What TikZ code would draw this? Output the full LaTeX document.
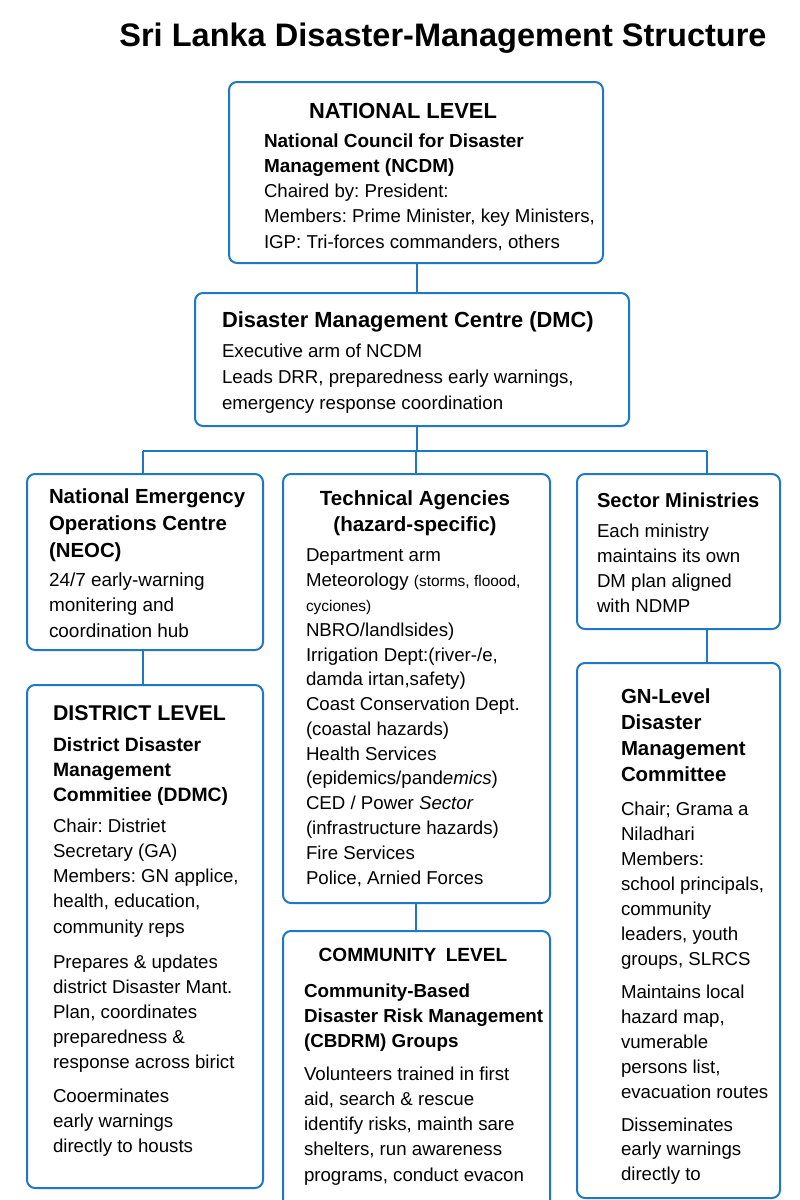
\documentclass[tikz,border=0pt]{standalone}
\usepackage{fontspec}
\setmainfont{Liberation Sans}
\frenchspacing
\usetikzlibrary{fit}
\definecolor{dblue}{RGB}{30,120,200}
\begin{document}
\begin{tikzpicture}[x=0.75pt,y=-0.75pt,
  box/.style={draw=dblue, line width=1.5pt, rounded corners=6pt, inner sep=0pt},
  conn/.style={draw=dblue, line width=1.5pt},
  txt/.style={anchor=base west, align=left, inner sep=0pt, outer sep=0pt},
  ctxt/.style={anchor=base, align=center, inner sep=0pt, outer sep=0pt}]
\useasboundingbox[fill=white] (0,0) rectangle (800,1200);

% title (anchor = baseline of the last line)
\node[ctxt, font=\fontsize{24.4}{28}\selectfont\bfseries] (title) at (443,46) {Sri Lanka Disaster-Management Structure};

% boxes
\node[box, fit={(229,82) (603,263)}] (nat) {};
\node[box, fit={(195,293) (629,426)}] (dmc) {};
\node[box, fit={(27,474) (263,650)}] (neoc) {};
\node[box, fit={(283,474) (550,903)}] (tech) {};
\node[box, fit={(577,474) (780,629)}] (sect) {};
\node[box, fit={(27,685) (263,1188)}] (dist) {};
\node[box, fit={(283,931) (550,1215)}] (comm) {};
\node[box, fit={(577,663) (780,1198)}] (gn) {};

% connectors
\coordinate (busc) at (417,451);
\coordinate (busl) at (143,451);
\coordinate (busr) at (707,451);
\coordinate (tcx) at (416,451);
\draw[conn] (nat.south -| busc) -- (busc |- dmc.north);
\draw[conn] (dmc.south -| busc) -- (busc);
\draw[conn] (busl) -- (busr);
\draw[conn] (busl) -- (busl |- neoc.north);
\draw[conn] (tcx) -- (tcx |- tech.north);
\draw[conn] (busr) -- (busr |- sect.north);
\draw[conn] (neoc.south -| busl) -- (busl |- dist.north);
\draw[conn] (tech.south -| tcx) -- (tcx |- comm.north);
\draw[conn] (sect.south -| busr) -- (busr |- gn.north);

% national
\node[ctxt, font=\fontsize{16.4}{19}\selectfont\bfseries] (natT) at (403,118) {NATIONAL LEVEL};
\node[txt, font=\fontsize{14.2}{18.75}\selectfont\bfseries] (natH) at (264,172) {National Council for Disaster\\Management (NCDM)};
\node[txt, font=\fontsize{14}{19}\selectfont] (natB) at (264,248) {Chaired by: President:\\Members: Prime Minister, key Ministers,\\IGP: Tri-forces commanders, others};

% DMC
\node[txt, font=\fontsize{16.4}{19}\selectfont\bfseries] (dmcH) at (222,327) {Disaster Management Centre (DMC)};
\node[txt, font=\fontsize{14}{19.5}\selectfont] (dmcB) at (222,409) {Executive arm of NCDM\\Leads DRR, preparedness early warnings,\\emergency response coordination};

% NEOC
\node[txt, font=\fontsize{15.3}{19.9}\selectfont\bfseries] (neocH) at (49,557) {National Emergency\\Operations Centre\\(NEOC)};
\node[txt, font=\fontsize{14.2}{19.1}\selectfont] (neocB) at (49,637) {24/7 early-warning\\monitering and\\coordination hub};

% Technical
\node[ctxt, font=\fontsize{15.4}{19.5}\selectfont\bfseries] (techH) at (415,531) {Technical Agencies\\(hazard-specific)};
\node[txt, font=\fontsize{14}{18.58}\selectfont] (techB) at (306,884) {Department arm\\Meteorology {\fontsize{11.6}{14}\selectfont(storms, floood,}\\{\fontsize{11.6}{14}\selectfont cyciones)}\\NBRO/landlsides)\\Irrigation Dept:(river-/e,\\damda irtan,safety)\\Coast Conservation Dept.\\(coastal hazards)\\Health Services\\(epidemics/pand\textit{emics})\\CED / Power \textit{Sector}\\(infrastructure hazards)\\Fire Services\\Police, Arnied Forces};

% Sector
\node[txt, font=\fontsize{15.1}{19}\selectfont\bfseries] (sectH) at (597,507) {Sector Ministries};
\node[txt, font=\fontsize{14}{18.75}\selectfont] (sectB) at (597,612) {Each ministry\\maintains its own\\DM plan aligned\\with NDMP};

% District
\node[txt, font=\fontsize{16}{19}\selectfont\bfseries] (distT) at (53,720) {DISTRICT LEVEL};
\node[txt, font=\fontsize{14.5}{18.4}\selectfont\bfseries] (distH) at (53,801) {District Disaster\\Management\\Commitiee (DDMC)};
\node[txt, font=\fontsize{14}{18.9}\selectfont] (distB1) at (53,933) {Chair: Distriet\\Secretary (GA)\\Members: GN applice,\\health, education,\\community reps};
\node[txt, font=\fontsize{14}{18.75}\selectfont] (distB2) at (53,1068) {Prepares \& updates\\district Disaster Mant.\\Plan, coordinates\\preparedness \&\\response across birict};
\node[txt, font=\fontsize{14}{18.75}\selectfont] (distB3) at (53,1152) {Cooerminates\\early warnings\\directly to housts};

% Community
\node[ctxt, font=\fontsize{14.3}{18}\selectfont\bfseries] (commT) at (413,961) {COMMUNITY\hspace{0.5em}LEVEL};
\node[txt, font=\fontsize{14.1}{18.75}\selectfont\bfseries] (commH) at (304,1047) {Community-Based\\Disaster Risk Management\\(CBDRM) Groups};
\node[txt, font=\fontsize{14}{18.9}\selectfont] (commB) at (304,1181) {Volunteers trained in first\\aid, search \& rescue\\identify risks, mainth sare\\shelters, run awareness\\programs, conduct evacon};

% GN
\node[txt, font=\fontsize{15.3}{19.5}\selectfont\bfseries] (gnH) at (621,781) {GN-Level\\Disaster\\Management\\Committee};
\node[txt, font=\fontsize{14}{18.75}\selectfont] (gnB1) at (621,965) {Chair; Grama a\\Niladhari\\Members:\\school principals,\\community\\leaders, youth\\groups, SLRCS};
\node[txt, font=\fontsize{14}{18.75}\selectfont] (gnB2) at (621,1098) {Maintains local\\hazard map,\\vumerable\\persons list,\\evacuation routes};
\node[txt, font=\fontsize{14}{18.2}\selectfont] (gnB3) at (621,1180) {Disseminates\\early warnings\\directly to};
\end{tikzpicture}
\end{document}
